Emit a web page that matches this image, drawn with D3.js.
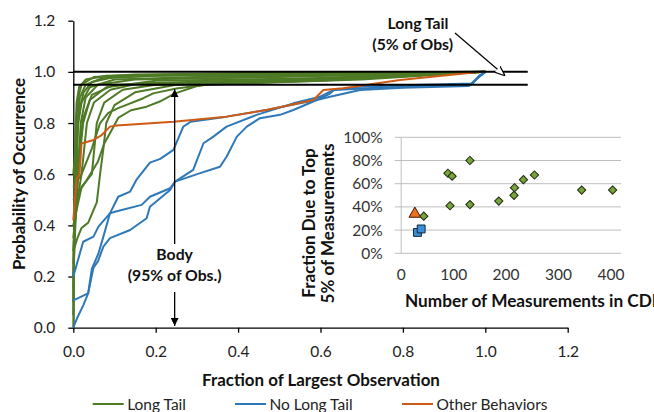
<!DOCTYPE html>
<html><head><meta charset="utf-8">
<script src="https://cdn.jsdelivr.net/npm/d3@7"></script>
<style>
body{margin:0;background:#fff}
svg{display:block}
text{font-family:Lato,"Open Sans",sans-serif}
</style>
</head><body>
<svg id="c" width="654" height="412"></svg>
<script>
// ---------- data ----------
const xTickValues = [0, 0.2, 0.4, 0.6, 0.8, 1.0, 1.2];
const yTickValues = [0, 0.2, 0.4, 0.6, 0.8, 1.0, 1.2];
const seriesNames = ["Long Tail", "No Long Tail", "Other Behaviors"];
const seriesColors = ["#4e7a26", "#2e78b8", "#cf5a16"];

const longTailCurves = [
  [[0,0.0],[0.001,0.3],[0.003,0.6],[0.006,0.8],[0.012,0.9],[0.02,0.95],[0.05,0.98],[0.15,0.99],[0.5,0.995],[1.0,1.0]],
  [[0,0.05],[0.002,0.3],[0.005,0.6],[0.009,0.8],[0.016,0.9],[0.03,0.95],[0.07,0.975],[0.2,0.985],[0.6,0.99],[1.0,1.0]],
  [[0,0.15],[0.003,0.4],[0.008,0.6],[0.012,0.8],[0.02,0.88],[0.04,0.94],[0.1,0.97],[0.3,0.98],[0.8,0.99],[1.0,1.0]],
  [[0,0.25],[0.004,0.45],[0.012,0.6],[0.018,0.8],[0.03,0.9],[0.06,0.95],[0.15,0.97],[0.5,0.98],[1.0,1.0]],
  [[0,0.3],[0.006,0.5],[0.014,0.65],[0.024,0.8],[0.04,0.89],[0.08,0.94],[0.2,0.965],[0.6,0.975],[1.0,1.0]],
  [[0,0.35],[0.01,0.5],[0.02,0.6],[0.033,0.8],[0.05,0.88],[0.09,0.93],[0.16,0.955],[0.5,0.97],[1.0,1.0]],
  [[0,0.3],[0.01,0.35],[0.02,0.39],[0.028,0.40],[0.036,0.41],[0.049,0.46],[0.057,0.49],[0.065,0.6],[0.073,0.7],[0.08,0.8],[0.1,0.87],[0.15,0.92],[0.25,0.95],[0.5,0.965],[1.0,1.0]],
  [[0,0.4],[0.02,0.55],[0.045,0.6],[0.057,0.8],[0.075,0.88],[0.12,0.93],[0.2,0.95],[0.5,0.96],[1.0,1.0]],
  [[0,0.5],[0.03,0.57],[0.06,0.65],[0.075,0.72],[0.089,0.76],[0.109,0.82],[0.14,0.85],[0.178,0.864],[0.21,0.884],[0.247,0.916],[0.3,0.945],[0.35,0.955],[0.6,0.965],[1.0,1.0]],
  [[0,0.55],[0.02,0.6],[0.045,0.7],[0.065,0.8],[0.085,0.84],[0.109,0.858],[0.17,0.897],[0.194,0.916],[0.25,0.935],[0.316,0.949],[0.4,0.955],[0.7,0.97],[1.0,1.0]],
  [[0,0.6],[0.008,0.75],[0.015,0.85],[0.025,0.92],[0.045,0.96],[0.1,0.98],[0.3,0.99],[1.0,1.0]],
  [[0,0.1],[0.002,0.4],[0.004,0.7],[0.008,0.88],[0.014,0.94],[0.03,0.97],[0.08,0.985],[0.4,0.995],[1.0,1.0]],
  [[0,0.2],[0.005,0.4],[0.01,0.55],[0.015,0.7],[0.024,0.82],[0.045,0.91],[0.1,0.95],[0.3,0.96],[0.7,0.975],[1.0,1.0]]
];

const noLongTailCurves = [
  [[0,0],[0.01,0.04],[0.025,0.09],[0.036,0.134],[0.045,0.23],[0.061,0.29],[0.073,0.356],[0.089,0.447],[0.109,0.512],[0.138,0.532],[0.154,0.58],[0.186,0.645],[0.211,0.66],[0.243,0.695],[0.267,0.786],[0.285,0.805],[0.372,0.825],[0.469,0.851],[0.55,0.877],[0.59,0.89],[0.62,0.912],[0.633,0.929],[0.785,0.942],[0.965,0.952],[0.985,0.98],[1.0,1.0]],
  [[0,0.107],[0.036,0.134],[0.049,0.235],[0.06,0.26],[0.073,0.317],[0.089,0.35],[0.138,0.382],[0.178,0.428],[0.186,0.473],[0.235,0.538],[0.247,0.571],[0.291,0.617],[0.316,0.721],[0.34,0.747],[0.372,0.786],[0.445,0.832],[0.534,0.877],[0.599,0.903],[0.631,0.929],[0.696,0.942],[0.8,0.948],[0.97,0.955],[0.985,0.985],[1.0,1.0]],
  [[0,0.2],[0.024,0.336],[0.049,0.356],[0.061,0.395],[0.089,0.447],[0.101,0.453],[0.166,0.48],[0.186,0.512],[0.235,0.545],[0.247,0.571],[0.308,0.604],[0.356,0.629],[0.372,0.668],[0.397,0.747],[0.421,0.786],[0.453,0.819],[0.502,0.832],[0.534,0.851],[0.591,0.89],[0.623,0.903],[0.696,0.929],[0.8,0.938],[0.96,0.945],[0.98,0.975],[1.0,1.0]]
];

const otherCurve = [[0,0.42],[0.004,0.5],[0.008,0.58],[0.015,0.6],[0.02,0.72],[0.049,0.734],[0.069,0.753],[0.089,0.786],[0.105,0.79],[0.243,0.805],[0.372,0.825],[0.469,0.851],[0.583,0.89],[0.607,0.929],[0.655,0.936],[0.793,0.968],[0.99,1.0]];

const thresholdLevels = [1.0, 0.95];
const thresholdEnd = 1.103;
const bodyArrowX = 0.246;

// inset scatter
const insetXTicks = [0, 100, 200, 300, 400];
const insetYTicks = [0, 0.2, 0.4, 0.6, 0.8, 1.0];
const insetLongTailN = [44, 90, 98, 94, 132, 132, 187, 216, 217, 234, 255, 345, 404];
const insetLongTailFrac = [0.32, 0.69, 0.665, 0.41, 0.80, 0.42, 0.45, 0.50, 0.565, 0.635, 0.675, 0.545, 0.545];
const insetNoLongTailN = [32, 39];
const insetNoLongTailFrac = [0.18, 0.21];
const insetOtherN = [27];
const insetOtherFrac = [0.34];

// ---------- helpers ----------
function fitSize(sample, width, weight) {
  const t = svg.append("text").attr("font-size", 20).attr("font-weight", weight).text(sample);
  const l = t.node().getComputedTextLength();
  t.remove();
  return 20 * width / l;
}

// ---------- drawing ----------
const svg = d3.select("#c");
const x = d3.scaleLinear().domain([0, 1.2]).range([73.3, 567.7]);
const y = d3.scaleLinear().domain([0, 1.2]).range([327.7, 20.7]);
const TICK_FS = 15.5;

// axes
const yAxis = svg.append("g").attr("transform", `translate(${x(0)},0)`)
  .call(d3.axisLeft(y).tickValues(yTickValues).tickFormat(d3.format(".1f")).tickSize(5).tickSizeOuter(0).tickPadding(13));
const xAxis = svg.append("g").attr("transform", `translate(0,${y(0)})`)
  .call(d3.axisBottom(x).tickValues(xTickValues).tickFormat(d3.format(".1f")).tickSize(5).tickSizeOuter(0).tickPadding(13));
[yAxis, xAxis].forEach(g => {
  g.select(".domain").attr("stroke", "#000").attr("stroke-width", 1.3);
  g.selectAll(".tick line").attr("stroke", "#000").attr("stroke-width", 1.3);
  g.selectAll(".tick text").attr("font-family", "Lato").attr("font-size", TICK_FS).attr("fill", "#222");
});

// axis titles
const titleFs = fitSize("Fraction of Largest Observation", 238, "bold");
svg.append("text").attr("transform", `translate(18.5,174) rotate(-90)`)
  .attr("text-anchor", "middle").attr("dominant-baseline", "central")
  .attr("font-weight", "bold").attr("font-size", titleFs).attr("fill", "#111").text("Probability of Occurrence");
svg.append("text").attr("x", 321).attr("y", 379).attr("text-anchor", "middle").attr("dominant-baseline", "central")
  .attr("font-weight", "bold").attr("font-size", titleFs).attr("fill", "#111").text("Fraction of Largest Observation");

// curves
const line = d3.line().x(d => x(d[0])).y(d => y(d[1]));
const curves = svg.append("g").attr("fill", "none").attr("stroke-width", 2).attr("stroke-linejoin", "round");
curves.selectAll(".lt").data(longTailCurves).join("path").attr("d", line).attr("stroke", seriesColors[0]);
curves.selectAll(".nlt").data(noLongTailCurves).join("path").attr("d", line).attr("stroke", seriesColors[1]);
curves.append("path").datum(otherCurve).attr("d", line).attr("stroke", seriesColors[2]);

// threshold lines
svg.selectAll(".thr").data(thresholdLevels).join("line")
  .attr("x1", x(0)).attr("x2", x(thresholdEnd)).attr("y1", d => y(d)).attr("y2", d => y(d))
  .attr("stroke", "#000").attr("stroke-width", 2);

// arrow markers
const defs = svg.append("defs");
defs.append("marker").attr("id", "ah").attr("viewBox", "0 0 10 10").attr("refX", 10).attr("refY", 5)
  .attr("markerWidth", 8).attr("markerHeight", 8).attr("markerUnits", "userSpaceOnUse").attr("orient", "auto")
  .append("path").attr("d", "M0,0 L10,5 L0,10 Z").attr("fill", "#000");
defs.append("marker").attr("id", "ah2").attr("viewBox", "0 0 10 10").attr("refX", 10).attr("refY", 5)
  .attr("markerWidth", 10).attr("markerHeight", 10).attr("markerUnits", "userSpaceOnUse").attr("orient", "auto")
  .append("path").attr("d", "M0,1 L10,5 L0,9").attr("fill", "#fff").attr("stroke", "#000").attr("stroke-width", 1.2);

// body arrows
const bx = x(bodyArrowX);
const annFs = fitSize("(95% of Obs.)", 94, "bold");
svg.append("line").attr("x1", bx).attr("x2", bx).attr("y1", 244).attr("y2", y(0.932))
  .attr("stroke", "#000").attr("stroke-width", 1.3).attr("marker-end", "url(#ah)");
svg.append("line").attr("x1", bx).attr("x2", bx).attr("y1", 292).attr("y2", y(0.007))
  .attr("stroke", "#000").attr("stroke-width", 1.3).attr("marker-end", "url(#ah)");
svg.append("text").attr("x", bx).attr("y", 253.5).attr("text-anchor", "middle").attr("dominant-baseline", "central")
  .attr("font-weight", "bold").attr("font-size", annFs).attr("fill", "#111").text("Body");
svg.append("text").attr("x", bx).attr("y", 274.5).attr("text-anchor", "middle").attr("dominant-baseline", "central")
  .attr("font-weight", "bold").attr("font-size", annFs).attr("fill", "#111").text("(95% of Obs.)");

// long tail annotation
svg.append("text").attr("x", 418).attr("y", 22.7).attr("text-anchor", "middle").attr("dominant-baseline", "central")
  .attr("font-weight", "bold").attr("font-size", annFs).attr("fill", "#111").text("Long Tail");
svg.append("text").attr("x", 412.7).attr("y", 43.3).attr("text-anchor", "middle").attr("dominant-baseline", "central")
  .attr("font-weight", "bold").attr("font-size", annFs).attr("fill", "#111").text("(5% of Obs)");
svg.append("line").attr("x1", 455).attr("y1", 33).attr("x2", 505).attr("y2", y(0.985))
  .attr("stroke", "#000").attr("stroke-width", 1.2).attr("marker-end", "url(#ah2)");

// ---------- inset ----------
const xi = d3.scaleLinear().domain([0, 420]).range([400.7, 621]);
const yi = d3.scaleLinear().domain([0, 1]).range([253.3, 137.3]);
const inset = svg.append("g");
inset.append("g").selectAll("line").data(insetYTicks).join("line")
  .attr("x1", xi(0) - 6).attr("x2", xi(420)).attr("y1", d => yi(d)).attr("y2", d => yi(d))
  .attr("stroke", "#bfbfbf").attr("stroke-width", 1);
const iy = inset.append("g").attr("transform", `translate(${xi(0)},0)`)
  .call(d3.axisLeft(yi).tickValues(insetYTicks).tickFormat(d3.format(".0%")).tickSize(0).tickPadding(18));
iy.select(".domain").attr("stroke", "#bfbfbf");
const ix = inset.append("g").attr("transform", `translate(0,${yi(0)})`)
  .call(d3.axisBottom(xi).tickValues(insetXTicks).tickSize(0).tickPadding(16));
ix.select(".domain").remove();
[iy, ix].forEach(g => g.selectAll(".tick text").attr("font-family", "Lato").attr("font-size", TICK_FS).attr("fill", "#333"));

const insetFs = fitSize("5% of Measurements", 160, "bold");
inset.append("text").attr("transform", `translate(308.5,223) rotate(-90)`)
  .attr("text-anchor", "middle").attr("dominant-baseline", "central")
  .attr("font-weight", "bold").attr("font-size", insetFs).attr("fill", "#111").text("Fraction Due to Top");
inset.append("text").attr("transform", `translate(327,223.5) rotate(-90)`)
  .attr("text-anchor", "middle").attr("dominant-baseline", "central")
  .attr("font-weight", "bold").attr("font-size", insetFs).attr("fill", "#111").text("5% of Measurements");
const insetXFs = fitSize("Number of Measurements in CD", 247, "bold");
inset.append("text").attr("x", 405).attr("y", 300).attr("dominant-baseline", "central")
  .attr("font-weight", "bold").attr("font-size", insetXFs).attr("fill", "#111").text("Number of Measurements in CDF");

const diamond = d3.symbol().type(d3.symbolSquare).size(34)();
inset.append("g").selectAll("path").data(insetLongTailN.map((n, i) => [n, insetLongTailFrac[i]])).join("path")
  .attr("d", diamond).attr("transform", d => `translate(${xi(d[0])},${yi(d[1])}) rotate(45)`)
  .attr("fill", "#78a53a").attr("stroke", "#1e2a10").attr("stroke-width", 1);
const square = d3.symbol().type(d3.symbolSquare).size(62)();
inset.append("g").selectAll("path").data(insetNoLongTailN.map((n, i) => [n, insetNoLongTailFrac[i]])).join("path")
  .attr("d", square).attr("transform", d => `translate(${xi(d[0])},${yi(d[1])})`)
  .attr("fill", "#3c8fd6").attr("stroke", "#10263c").attr("stroke-width", 1);
const tri = d3.symbol().type(d3.symbolTriangle).size(60)();
inset.append("g").selectAll("path").data(insetOtherN.map((n, i) => [n, insetOtherFrac[i]])).join("path")
  .attr("d", tri).attr("transform", d => `translate(${xi(d[0])},${yi(d[1])})`)
  .attr("fill", "#f07022").attr("stroke", "#3a1a08").attr("stroke-width", 1);

// ---------- legend ----------
const legendFs = fitSize("Other Behaviors", 111, "normal");
const legendX = [92.7, 235, 402];
const lg = svg.append("g").selectAll("g").data(seriesNames).join("g")
  .attr("transform", (d, i) => `translate(${legendX[i]},404)`);
lg.append("line").attr("x1", 0).attr("x2", 31).attr("stroke", (d, i) => seriesColors[i]).attr("stroke-width", 2);
lg.append("text").attr("x", 34.5).attr("dominant-baseline", "central").attr("font-size", legendFs).attr("fill", "#222").text(d => d);
</script>
</body></html>
